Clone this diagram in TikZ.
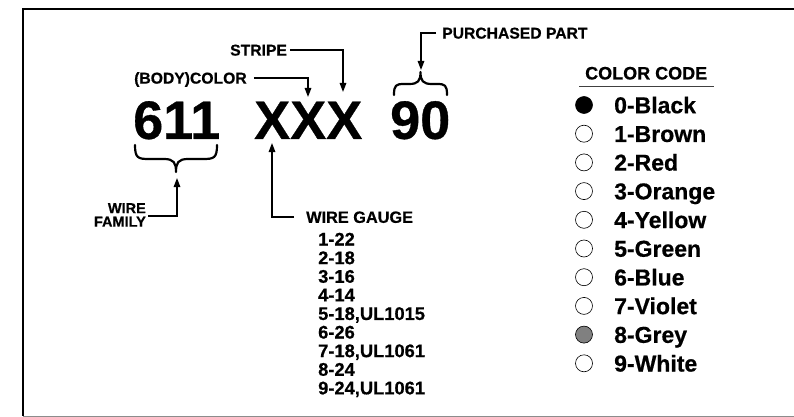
\documentclass[tikz,border=0pt]{standalone}
\usepackage{fontspec}
\setmainfont{Liberation Sans}[BoldFeatures={FakeBold=0.6}]
\usetikzlibrary{arrows.meta}
\begin{document}
\begin{tikzpicture}[x=1pt,y=-1pt,
  txt/.style={inner sep=0pt, anchor=west, text depth=0pt},
  big/.style={txt, font=\bfseries\fontsize{54}{54}\selectfont, text height=38.7pt},
  lab/.style={txt, font=\bfseries\fontsize{15.7}{16}\selectfont, text height=11.2pt},
  famlab/.style={inner sep=0pt, anchor=east, text depth=0pt, font=\bfseries\fontsize{14.5}{15}\selectfont, text height=10.4pt},
  wglab/.style={txt, font=\bfseries\fontsize{16.3}{17}\selectfont, text height=11.7pt},
  gauge/.style={txt, font=\bfseries\fontsize{18.3}{18}\selectfont, text height=13.1pt},
  head/.style={txt, font=\bfseries\fontsize{18}{18}\selectfont, text height=12.9pt},
  cc/.style={txt, font=\bfseries\fontsize{23}{23}\selectfont, text height=16.5pt},
  conn/.style={line width=1.4pt, -{Triangle[length=9pt,width=6.5pt]}},
  bracestyle/.style={line width=2.2pt, line cap=round, line join=round},
  dot/.style={circle, draw, line width=0.6pt, minimum size=17pt, inner sep=0pt}]
\useasboundingbox (0,0) rectangle (794,417);
% frame
\draw[line width=2.5pt] (794,9) -- (23,9) -- (23,416);
\draw[black!45, line width=1pt] (23,416) -- (794,416);

% big code
\node[big] (fam) at (133,119.5) {611};
\node[big] (col) at (254,119.5) {XXX};
\node[big] (pp) at (390,119.5) {90};

% braces
\draw[bracestyle] (135,145) .. controls (135,158) and (138,159) .. (149,159) -- (164,159)
  .. controls (174,159) and (176,163) .. (176,172)
  .. controls (176,163) and (178,159) .. (188,159) -- (203,159)
  .. controls (214,159) and (217,158) .. (217,145);
\coordinate (famtip) at (176,172);
\draw[bracestyle] (394,95) .. controls (394,85) and (396,84) .. (404,84) -- (409,84)
  .. controls (418,84) and (420.5,81) .. (420.5,72)
  .. controls (420.5,81) and (423,84) .. (432,84) -- (437,84)
  .. controls (445,84) and (447,85) .. (447,95);

% labels
\node[lab] (bc) at (134,78) {(BODY)COLOR};
\node[lab] (st) at (230,50) {STRIPE};
\node[lab] (pu) at (442,33) {PURCHASED PART};
\node[famlab] (wf1) at (146,208) {WIRE};
\node[famlab] (wf2) at (146,221.5) {FAMILY};
\node[wglab] (wg) at (306,217) {WIRE GAUGE};

% connectors
\coordinate (bcT) at (308,97);
\draw[conn] ([xshift=7pt]bc.east) -| (bcT);
\coordinate (stT) at (343,92);
\draw[conn] ([xshift=3pt]st.east) -| (stT);
\coordinate (ppT) at (421,70);
\draw[conn] ([xshift=-6pt]pu.west) -| (ppT);
\coordinate (fmT) at (177,178);
\draw[conn] ([xshift=2pt]wf2.north east) -| (fmT);
\coordinate (wgT) at (272,143);
\draw[conn] ([xshift=-12pt]wg.west) -| (wgT);

% gauge list
\foreach \t [count=\i from 0] in {1-22,2-18,3-16,4-14,{5-18,UL1015},6-26,{7-18,UL1061},8-24,{9-24,UL1061}} {
  \node[gauge] (g\i) at (318,{239+18.6*\i}) {\t};
}

% color code
\node[head] (cch) at (585,73) {COLOR CODE};
\draw[black!75, line width=1pt] (579,87) -- (714,87);
\foreach \n/\c/\f [count=\i from 0] in {0/Black/black,1/Brown/white,2/Red/white,3/Orange/white,4/Yellow/white,5/Green/white,6/Blue/white,7/Violet/white,8/Grey/black!50,9/White/white} {
  \node[dot, fill=\f] (d\n) at (584,{105+28.7*\i}) {};
  \node[cc] (c\n) at (614,{105+28.7*\i}) {\n-\c};
}
\end{tikzpicture}
\end{document}
